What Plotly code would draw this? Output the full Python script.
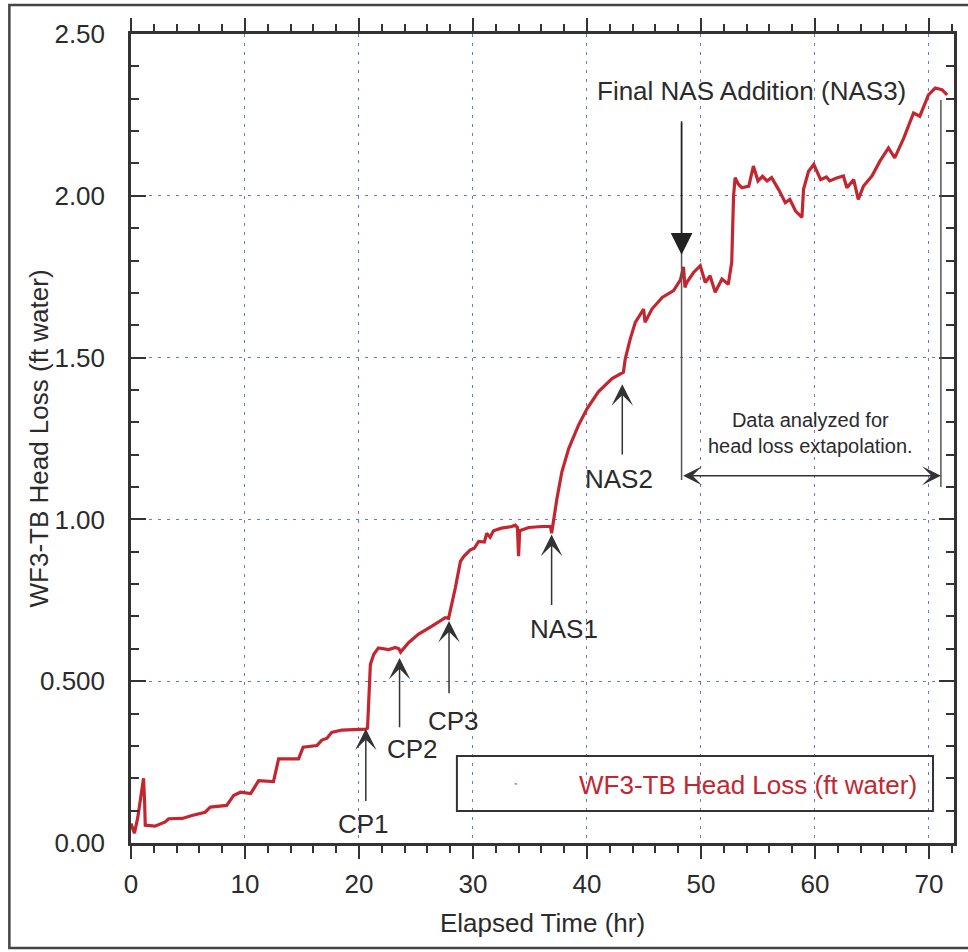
import plotly.graph_objects as go

# ---------------- data ----------------
elapsed_hr = [
    0.0, 0.3, 0.6, 0.9, 1.1, 1.2, 1.25, 2.1, 3.0, 3.3, 4.5, 5.35, 6.5, 6.96, 8.4,
    9.0, 9.6, 10.5, 11.2, 12.5, 12.95, 14.7, 15.1, 16.3, 16.75, 17.2, 17.6, 18.5,
    19.7, 20.55, 20.75, 20.9, 21.0, 21.3, 21.7, 22.6, 23.2, 23.5, 23.65, 24.35,
    25.2, 26.4, 27.57, 27.86, 28.0, 28.45, 28.9, 29.2, 29.76, 30.1, 30.5, 31.0,
    31.2, 31.5, 31.8, 32.5, 33.4, 33.7, 33.9, 34.0, 34.1, 34.9, 36.05, 36.8, 36.9,
    37.07, 37.37, 37.8, 38.4, 39.26, 40.0, 41.0, 42.2, 43.2, 43.36, 43.8, 44.24,
    44.97, 45.1, 45.7, 46.6, 47.6, 48.2, 48.47, 48.6, 48.75, 49.35, 49.94, 50.38,
    50.8, 51.25, 51.84, 52.4, 52.7, 52.86, 53.0, 53.3, 53.6, 54.2, 54.6, 55.0,
    55.4, 55.8, 56.2, 56.8, 57.4, 57.8, 58.3, 58.86, 59.0, 59.44, 59.9, 60.5,
    61.0, 61.3, 61.9, 62.5, 62.8, 63.4, 63.8, 64.26, 65.0, 65.7, 66.45, 67.0,
    67.8, 68.65, 69.2, 69.96, 70.55, 71.14, 71.6,
]
head_loss_ft = [
    0.060, 0.030, 0.080, 0.150, 0.200, 0.120, 0.055, 0.052, 0.065, 0.075, 0.076,
    0.085, 0.095, 0.111, 0.116, 0.147, 0.157, 0.153, 0.193, 0.190, 0.260, 0.260,
    0.296, 0.301, 0.318, 0.324, 0.342, 0.349, 0.352, 0.352, 0.355, 0.500, 0.552,
    0.583, 0.603, 0.598, 0.604, 0.600, 0.590, 0.619, 0.645, 0.670, 0.696, 0.694,
    0.716, 0.788, 0.870, 0.886, 0.906, 0.910, 0.932, 0.930, 0.957, 0.945, 0.965,
    0.973, 0.978, 0.982, 0.975, 0.886, 0.965, 0.975, 0.978, 0.978, 0.957, 1.000,
    1.065, 1.147, 1.219, 1.291, 1.342, 1.394, 1.435, 1.455, 1.496, 1.558, 1.609,
    1.650, 1.609, 1.650, 1.686, 1.707, 1.740, 1.780, 1.717, 1.732, 1.763, 1.784,
    1.732, 1.753, 1.702, 1.743, 1.727, 1.794, 2.000, 2.056, 2.035, 2.025, 2.030,
    2.092, 2.046, 2.060, 2.046, 2.056, 2.020, 1.979, 1.989, 1.953, 1.933, 2.020,
    2.076, 2.097, 2.050, 2.058, 2.046, 2.055, 2.061, 2.025, 2.050, 1.989, 2.030,
    2.061, 2.107, 2.148, 2.117, 2.179, 2.256, 2.246, 2.312, 2.333, 2.328, 2.312,
]
series_name = "WF3-TB Head Loss (ft water)"
x_title = "Elapsed Time (hr)"
y_title = "WF3-TB Head Loss (ft water)"

x_tick_vals = [0, 10, 20, 30, 40, 50, 60, 70]
x_tick_text = ["0", "10", "20", "30", "40", "50", "60", "70"]
y_tick_vals = [0.0, 0.5, 1.0, 1.5, 2.0, 2.5]
y_tick_text = ["0.00", "0.500", "1.00", "1.50", "2.00", "2.50"]

# event markers: label, time (hr), arrow tip, arrow tail, label x, label y
event_labels = ["CP1", "CP2", "CP3", "NAS1", "NAS2"]
event_time = [20.6, 23.56, 27.9, 36.9, 43.1]
event_tip = [0.353, 0.572, 0.686, 0.953, 1.418]
event_tail = [0.125, 0.353, 0.458, 0.731, 1.196]
event_label_x = [20.4, 24.7, 28.3, 38.0, 42.8]
event_label_y = [0.06, 0.29, 0.378, 0.66, 1.126]

nas3_label = "Final NAS Addition (NAS3)"
nas3_time = 48.3
window_end = 71.05
window_note = "Data analyzed for<br>head loss extapolation."

# ---------------- figure ----------------
FONT = "Liberation Sans, Arial, sans-serif"
TXT = "#2b2b2b"
RED = "#c42630"
AX = "#333333"
GRID = "#6a78d0"

fig = go.Figure()
fig.add_trace(go.Scatter(
    x=elapsed_hr, y=head_loss_ft, mode="lines", name=series_name,
    line=dict(color=RED, width=3.2), showlegend=False,
))

annotations = []
for lab, t, tip, tail, lx, ly in zip(event_labels, event_time, event_tip,
                                     event_tail, event_label_x, event_label_y):
    annotations.append(dict(
        x=t, y=tip, ax=t, ay=tail, xref="x", yref="y", axref="x", ayref="y",
        text="", showarrow=True, arrowhead=3, arrowsize=2.4, arrowwidth=1.5,
        arrowcolor=AX,
    ))
    annotations.append(dict(
        x=lx, y=ly, xref="x", yref="y", text=lab, showarrow=False,
        font=dict(family=FONT, size=26, color=TXT),
    ))

# NAS3 arrow + label
annotations.append(dict(
    x=nas3_time, y=1.818, ax=nas3_time, ay=2.231, xref="x", yref="y",
    axref="x", ayref="y", text="", showarrow=True, arrowhead=2,
    arrowsize=2.9, arrowwidth=1.5, arrowcolor="#222222",
))
annotations.append(dict(
    x=54.4, y=2.324, xref="x", yref="y", text=nas3_label, showarrow=False,
    font=dict(family=FONT, size=26, color=TXT),
))
# double-headed analysis window arrow
annotations.append(dict(
    x=window_end, y=1.135, ax=nas3_time, ay=1.135, xref="x", yref="y",
    axref="x", ayref="y", text="", showarrow=True, arrowside="end+start",
    arrowhead=3, startarrowhead=3, arrowsize=2.1, startarrowsize=2.1,
    arrowwidth=1.5, arrowcolor=AX,
))
annotations.append(dict(
    x=59.6, y=1.267, xref="x", yref="y", text=window_note, showarrow=False,
    font=dict(family=FONT, size=20, color=TXT), align="center",
))
# legend-style text
annotations.append(dict(
    x=0.958, y=0.0717, xref="paper", yref="paper", xanchor="right",
    yanchor="middle", text=series_name, showarrow=False,
    font=dict(family=FONT, size=26, color=RED),
))
# y-axis title
annotations.append(dict(
    x=-0.113, y=0.5, xref="paper", yref="paper", xanchor="center",
    yanchor="middle", text=y_title, textangle=-90, showarrow=False,
    font=dict(family=FONT, size=26, color=TXT),
))

shapes = [
    # vertical bounds of analysis window
    dict(type="line", xref="x", yref="y", x0=nas3_time, x1=nas3_time,
         y0=2.231, y1=1.122, line=dict(color="#555555", width=1.5)),
    dict(type="line", xref="x", yref="y", x0=window_end, x1=window_end,
         y0=2.296, y1=1.10, line=dict(color="#555555", width=1.5)),
    # legend box
    dict(type="rect", xref="paper", yref="paper", x0=0.396, x1=0.9745,
         y0=0.0396, y1=0.1075, line=dict(color=AX, width=2),
         fillcolor="rgba(255,255,255,0)"),
    dict(type="line", xref="paper", yref="paper", x0=0.466, x1=0.469,
         y0=0.0730, y1=0.0730, line=dict(color=RED, width=1)),
    # outer frame
    dict(type="rect", xref="paper", yref="paper", x0=-0.1478, x1=1.04,
         y0=-0.1298, y1=1.0358, line=dict(color="#444444", width=2.5),
         layer="below"),
]

fig.update_layout(
    width=968, height=952,
    margin=dict(l=131, r=14, t=34, b=109),
    paper_bgcolor="white", plot_bgcolor="white",
    font=dict(family=FONT, size=26, color=TXT),
    annotations=annotations, shapes=shapes,
    showlegend=False,
)

fig.update_xaxes(
    range=[0, 72.2], tickmode="array", tickvals=x_tick_vals,
    ticktext=x_tick_text, ticks="outside", ticklen=13, tickwidth=2,
    tickcolor=AX, showline=True, linecolor=AX, linewidth=2.5, mirror="ticks",
    showgrid=True, gridcolor=GRID, gridwidth=1.3, griddash="3px,6px",
    zeroline=False, ticklabelstandoff=3,
    tickfont=dict(family=FONT, size=26, color=TXT),
    minor=dict(dtick=2, tick0=0, ticks="outside", ticklen=7, tickwidth=2,
               tickcolor=AX, showgrid=False),
    title=dict(text=x_title, standoff=16,
               font=dict(family=FONT, size=26, color=TXT)),
)
fig.update_yaxes(
    range=[0, 2.5], tickmode="array", tickvals=y_tick_vals,
    ticktext=y_tick_text, ticks="inside", ticklen=15, tickwidth=2,
    tickcolor=AX, showline=True, linecolor=AX, linewidth=2.5, mirror="ticks",
    showgrid=True, gridcolor=GRID, gridwidth=1.3, griddash="3px,6px",
    zeroline=False, ticklabelstandoff=18,
    tickfont=dict(family=FONT, size=26, color=TXT),
    minor=dict(dtick=0.1, tick0=0, ticks="inside", ticklen=8, tickwidth=2,
               tickcolor=AX, showgrid=False),
)

fig.write_html("out.html")
